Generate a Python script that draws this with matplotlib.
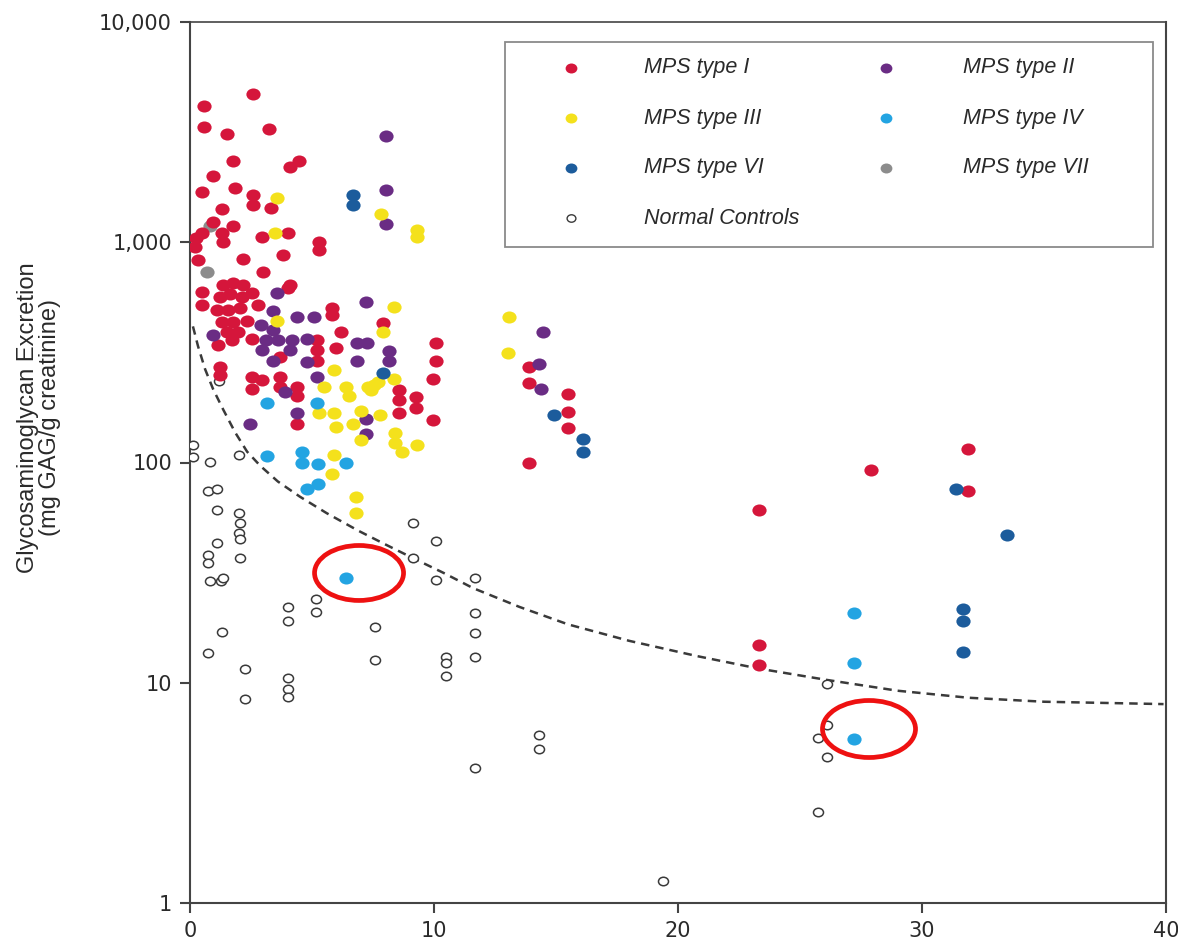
import numpy as np
import matplotlib
matplotlib.use("Agg")
import matplotlib.pyplot as plt
from matplotlib.path import Path
from matplotlib.transforms import Affine2D
from matplotlib.patches import Ellipse, Rectangle
from matplotlib.ticker import FixedLocator, FixedFormatter, NullLocator

# ---------------- data ----------------
mps1_x = [2.57, 0.57, 0.57, 1.5, 3.25, 1.78, 4.1, 4.45, 0.95, 0.5, 1.85, 2.6, 2.6, 3.3, 1.3,
          0.95, 1.77, 0.5, 1.3, 1.36, 2.95, 4.0, 5.3, 5.3, 0.2, 0.33, 2.18, 3.8, 3.0, 0.25,
          0.5, 0.5, 1.36, 1.77, 2.18, 1.23, 1.65, 2.15, 2.55, 1.1, 1.56, 2.05, 2.8, 1.3, 1.77,
          2.35, 4.0, 4.1, 1.5, 1.97, 2.55, 1.72, 1.15, 1.23, 1.23, 2.55, 2.55, 2.95, 3.7, 3.7,
          4.4, 4.4, 4.4, 5.8, 5.8, 6.2, 5.2, 5.2, 5.2, 3.7, 6.0,
          7.9, 10.1, 10.1, 9.95, 8.55, 8.55, 9.25, 9.25, 8.55, 9.95,
          13.9, 13.9, 13.9, 15.5, 15.5, 15.5, 23.3, 27.9, 31.9, 31.9, 23.3, 23.3]
mps1_y = [4700, 4170, 3350, 3090, 3270, 2340, 2190, 2340, 2000, 1690, 1760, 1640, 1480, 1430, 1420,
          1240, 1190, 1100, 1100, 1000, 1060, 1100, 1000, 920, 950, 830, 840, 875, 735, 1050,
          595, 520, 640, 650, 640, 565, 580, 565, 590, 490, 490, 505, 520, 435, 435,
          440, 620, 640, 390, 390, 365, 360, 340, 270, 250, 245, 215, 237, 245, 220,
          220, 200, 150, 505, 465, 390, 360, 325, 290, 300, 330,
          430, 350, 290, 240, 213, 192, 198, 177, 167, 156,
          270, 230, 100, 205, 170, 143, 61, 92, 115, 74, 14.9, 12.1]

mps2_x = [8.05, 8.05, 8.05, 7.2, 3.56, 4.4, 5.1, 3.4, 2.9, 3.4, 0.95, 3.1, 3.6, 4.2, 4.8,
          2.95, 4.1, 3.4, 4.8, 6.85, 7.25, 6.85, 5.2, 3.9, 4.4, 2.46, 7.2, 7.2, 8.15, 8.15,
          14.45, 14.3, 14.4]
mps2_y = [3030, 1730, 1210, 535, 590, 460, 460, 485, 420, 400, 380, 360, 360, 360, 365,
          325, 325, 290, 285, 350, 350, 290, 245, 210, 167, 150, 158, 135, 320, 290,
          390, 280, 215]

mps3_x = [3.56, 3.5, 7.84, 9.3, 9.3, 8.35, 13.06, 13.05, 3.56, 5.9, 5.5, 6.4, 6.5, 7.3, 7.55,
          5.3, 5.9, 6.0, 7.0, 6.7, 7.0, 5.9, 5.8, 6.8, 6.8, 7.9, 8.35, 7.4, 7.7, 7.8,
          8.4, 8.4, 8.7, 9.3]
mps3_y = [1590, 1100, 1350, 1135, 1060, 510, 460, 315, 440, 262, 220, 220, 200, 220, 225,
          167, 167, 145, 172, 150, 126, 108, 89, 70, 59, 390, 240, 213, 231, 165,
          136, 123, 112, 120]

mps4_x = [3.15, 5.2, 4.6, 3.15, 4.6, 5.25, 6.4, 5.25, 4.8, 6.4, 27.2, 27.2, 27.2]
mps4_y = [186, 186, 112, 107, 100, 98, 99, 80, 76, 30, 20.8, 12.3, 5.55]

mps6_x = [6.7, 6.7, 7.9, 14.9, 16.1, 16.1, 31.4, 33.5, 31.7, 31.7, 31.7]
mps6_y = [1640, 1480, 255, 165, 128, 112, 76, 47, 21.6, 19.1, 13.8]

mps7_x = [0.8, 0.7]
mps7_y = [1180, 735]

ctrl_x = [0.12, 0.12, 0.8, 2.0, 0.75, 1.1, 1.1, 2.0, 2.05, 2.0, 2.05, 1.1, 0.75, 0.75, 2.05,
          0.8, 1.25, 1.35, 5.15, 5.15, 4.0, 4.0, 1.3, 0.75, 7.6, 7.6, 2.25, 4.0, 4.0, 4.0,
          2.25, 9.15, 10.1, 9.15, 10.1, 11.7, 11.7, 11.7, 11.7, 10.5, 10.5, 10.5, 14.3, 14.3,
          11.7, 19.4, 26.1, 26.1, 25.75, 26.1, 25.75, 1.2]
ctrl_y = [120, 106, 101, 108, 74, 76, 61, 59, 53, 48, 45, 43, 38, 35, 37,
          29, 29, 30, 24, 21, 22, 19, 17, 13.6, 18, 12.7, 11.6, 10.5, 9.4, 8.6,
          8.4, 53, 44, 37, 29.3, 30, 20.7, 16.8, 13.1, 13.1, 12.3, 10.7, 5.8, 5.0,
          4.1, 1.26, 9.9, 6.4, 5.6, 4.6, 2.6, 235]

curve_x = [0.12, 0.33, 0.62, 0.95, 1.36, 1.85, 2.34, 2.88, 3.6, 4.5, 5.6, 6.9, 8.0, 9.16,
           10.4, 11.6, 13.5, 15.5, 18.0, 20.8, 23.3, 26.1, 29.0, 31.9, 35.0, 39.9]
curve_y = [415, 337, 265, 215, 174, 137, 112, 96.6, 82, 70, 58.9, 49, 42.5, 36.7,
           31.5, 26.9, 22.1, 18.4, 15.5, 13.2, 11.6, 10.3, 9.2, 8.55, 8.2, 8.0]

x_ticks = [0, 10, 20, 30, 40]
x_tick_labels = ["0", "10", "20", "30", "40"]
y_ticks = [1, 10, 100, 1000, 10000]
y_tick_labels = ["1", "10", "100", "1,000", "10,000"]

legend_labels = ["MPS type I", "MPS type II", "MPS type III", "MPS type IV",
                 "MPS type VI", "MPS type VII", "Normal Controls"]
y_label = "Glycosaminoglycan Excretion\n(mg GAG/g creatinine)"

# ---------------- styling ----------------
C_I = "#d5163b"
C_II = "#6a2c84"
C_III = "#f4e11c"
C_IV = "#23a4e2"
C_VI = "#1c5c9c"
C_VII = "#8c8c8c"
C_CTRL = "#3a3a3a"

ellipse_marker = Affine2D().scale(1.18, 1.0).transform_path(Path.unit_circle())

fig = plt.figure(figsize=(11.78, 9.42), dpi=100)
fig.patch.set_facecolor("white")
ax = fig.add_axes([190 / 1178, 39 / 942, 976 / 1178, 881 / 942])

ax.set_yscale("log")
ax.set_xlim(0, 40)
ax.set_ylim(1, 10000)

# dashed reference curve
ax.plot(curve_x, curve_y, color="#3a3a3a", lw=1.8, linestyle=(0, (3.4, 2.4)),
        solid_joinstyle="round", dash_joinstyle="round", zorder=2)

# points
ax.scatter(ctrl_x, ctrl_y, s=52, marker=ellipse_marker, facecolors="white",
           edgecolors=C_CTRL, linewidths=1.1, zorder=3)
S = 105
ax.scatter(mps7_x, mps7_y, s=S, marker=ellipse_marker, color=C_VII, lw=0, zorder=4)
ax.scatter(mps1_x, mps1_y, s=S, marker=ellipse_marker, color=C_I, lw=0, zorder=4)
ax.scatter(mps2_x, mps2_y, s=S, marker=ellipse_marker, color=C_II, lw=0, zorder=4)
ax.scatter(mps3_x, mps3_y, s=S, marker=ellipse_marker, color=C_III, lw=0, zorder=4)
ax.scatter(mps4_x, mps4_y, s=S, marker=ellipse_marker, color=C_IV, lw=0, zorder=4)
ax.scatter(mps6_x, mps6_y, s=S, marker=ellipse_marker, color=C_VI, lw=0, zorder=4)

# axes styling
for side in ["left", "bottom", "top", "right"]:
    ax.spines[side].set_color("#444444")
    ax.spines[side].set_linewidth(1.5)
ax.spines["top"].set_linewidth(1.2)

ax.xaxis.set_major_locator(FixedLocator(x_ticks))
ax.xaxis.set_major_formatter(FixedFormatter(x_tick_labels))
ax.yaxis.set_major_locator(FixedLocator(y_ticks))
ax.yaxis.set_major_formatter(FixedFormatter(y_tick_labels))
ax.xaxis.set_minor_locator(NullLocator())
ax.yaxis.set_minor_locator(NullLocator())
ax.tick_params(axis="both", direction="out", length=7, width=1.5, color="#444444",
               labelsize=15, labelcolor="#2a2a2a", pad=6)
for lab in ax.get_xticklabels() + ax.get_yticklabels():
    lab.set_family("DejaVu Sans")

fig.text(39 / 1178, 1 - 418 / 942, y_label, rotation=90, ha="center", va="center",
         multialignment="center", fontsize=17, family="Liberation Sans", color="#2a2a2a",
         linespacing=1.0)

# legend (manual, placed as in the reference)
ax.add_patch(Rectangle((0.3227, 0.7446), 0.664, 0.2327, transform=ax.transAxes,
                       fill=True, facecolor="white", edgecolor="#8a8a8a", lw=1.3, zorder=6))
leg_colors = [C_I, C_II, C_III, C_IV, C_VI, C_VII, None]
col_marker_x = [0.3904, 0.7131]
col_text_x = [0.4652, 0.7920]
row_y = [0.9478, 0.8910, 0.8343, 0.7775]
for i, (lab, col) in enumerate(zip(legend_labels, leg_colors)):
    r, c = divmod(i, 2)
    if col is None:
        ax.scatter([col_marker_x[c]], [row_y[r]], s=40, marker=ellipse_marker,
                   facecolors="white", edgecolors=C_CTRL, linewidths=1.0,
                   transform=ax.transAxes, zorder=7, clip_on=False)
    else:
        ax.scatter([col_marker_x[c]], [row_y[r]], s=72, marker=ellipse_marker,
                   color=col, lw=0, transform=ax.transAxes, zorder=7, clip_on=False)
    ax.text(col_text_x[c], row_y[r], lab, transform=ax.transAxes, fontsize=15.5,
            style="italic", family="Liberation Sans", color="#2a2a2a",
            ha="left", va="center", zorder=7)

# red highlight ellipses (annotation)
ax.add_patch(Ellipse((0.1732, 0.3746), 0.0912, 0.0624, transform=ax.transAxes,
                     fill=False, edgecolor="#ee1111", lw=3.4, zorder=8))
ax.add_patch(Ellipse((0.6957, 0.1975), 0.0953, 0.0647, transform=ax.transAxes,
                     fill=False, edgecolor="#ee1111", lw=3.4, zorder=8))

fig.savefig("out.png", dpi=100, facecolor="white")
